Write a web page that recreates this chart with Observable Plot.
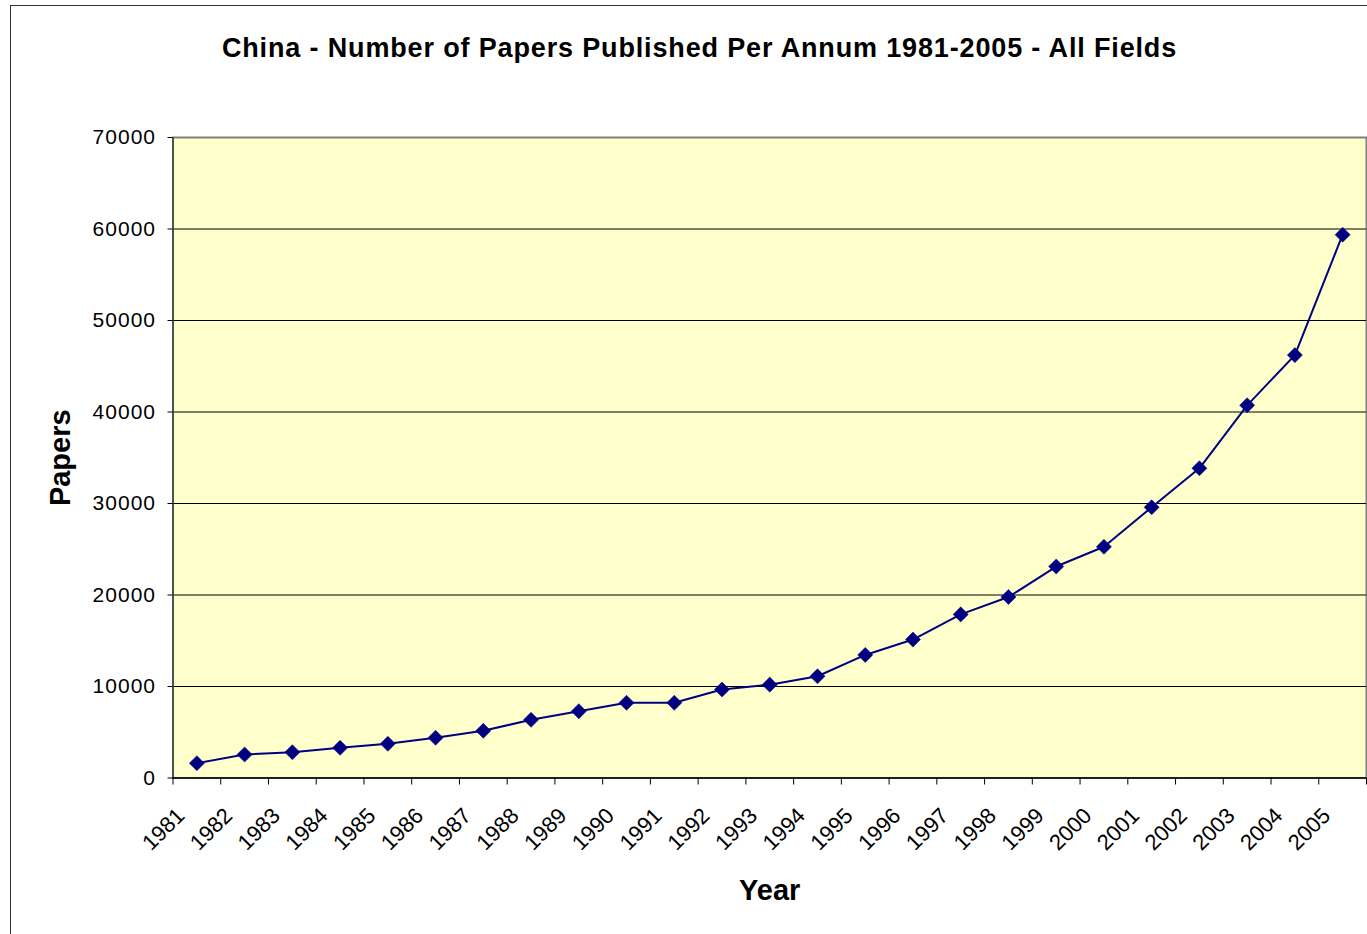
<!DOCTYPE html>
<html>
<head>
<meta charset="utf-8">
<script src="https://cdn.jsdelivr.net/npm/d3@7"></script>
<script src="https://cdn.jsdelivr.net/npm/@observablehq/plot@0.6"></script>
<style>
  html, body { margin: 0; padding: 0; background: #ffffff; overflow: hidden; }
  #fig { position: relative; width: 1367px; height: 934px; overflow: hidden; background: #ffffff;
         font-family: Arial, "Liberation Sans", sans-serif; }
  #border { position: absolute; left: 10px; top: 5px; width: 1400px; height: 1000px;
            border: 1.5px solid #333333; box-sizing: border-box; }
  #title { position: relative; height: 100px; box-sizing: border-box; padding-top: 33px; padding-left: 32px;
           text-align: center; font-weight: bold; font-size: 27px; line-height: 30px; letter-spacing: 0.85px; color: #000; }
  #chart { position: relative; }
  #chart svg { display: block; }
  #chart svg g[aria-label="y-axis tick label"] text { letter-spacing: 1px; }
</style>
</head>
<body>
<div id="fig">
  <div id="border"></div>
  <div id="title">China - Number of Papers Published Per Annum 1981-2005 - All Fields</div>
  <div id="chart"></div>
</div>
<script>
// Data
const years = [1981, 1982, 1983, 1984, 1985, 1986, 1987, 1988, 1989, 1990, 1991, 1992, 1993,
               1994, 1995, 1996, 1997, 1998, 1999, 2000, 2001, 2002, 2003, 2004, 2005];
const papers = [1620, 2570, 2820, 3300, 3740, 4400, 5160, 6360, 7300, 8220, 8220, 9670, 10200,
                11120, 13450, 15130, 17880, 19780, 23110, 25270, 29590, 33850, 40730, 46220, 59380];
const yTicks = [0, 10000, 20000, 30000, 40000, 50000, 60000, 70000];
const xLabel = "Year";
const yLabel = "Papers";

const data = years.map((year, i) => ({year, papers: papers[i]}));
// category boundaries (Excel puts the tick marks between categories)
const boundaries = years.concat([years[years.length - 1] + 1]);
const navy = "#000080";
const font = 'Arial, "Liberation Sans", sans-serif';

const chart = Plot.plot({
  width: 1367,
  height: 834,
  marginLeft: 172.5,
  marginRight: 1,
  marginTop: 37,
  marginBottom: 156.5,
  style: {fontFamily: font, background: "transparent", overflow: "visible", color: "#000"},
  x: {type: "linear", domain: [years[0], years[years.length - 1] + 1]},
  y: {type: "linear", domain: [0, 70000]},
  marks: [
    Plot.frame({fill: "#ffffcc", stroke: "#808080", strokeWidth: 2}),
    Plot.gridY(yTicks.filter(t => t > 0 && t < 70000), {stroke: "#000", strokeOpacity: 1, strokeWidth: 1}),
    Plot.ruleX([years[0]], {stroke: "#404040", strokeWidth: 1.5}),
    Plot.ruleY([0], {stroke: "#000", strokeWidth: 1.5}),
    Plot.axisY({ticks: yTicks, tickSize: 5, tickPadding: 12, tickFormat: d3.format("d"),
                fontSize: 21, label: null, stroke: "#000", fill: "#000"}),
    Plot.axisX({ticks: boundaries, tickSize: 7, tickFormat: () => "", label: null, stroke: "#000"}),
    Plot.text(years, {x: d => d + 0.5, frameAnchor: "bottom", text: d => String(d),
                      rotate: -45, textAnchor: "end", lineAnchor: "bottom",
                      dx: -11, dy: 39, fontSize: 22, fill: "#000"}),
    Plot.lineY(data, {x: d => d.year + 0.5, y: "papers", stroke: navy, strokeWidth: 2}),
    Plot.dot(data, {x: d => d.year + 0.5, y: "papers", symbol: "diamond2", r: 6.8, fill: navy, stroke: navy, strokeWidth: 0.5}),
    Plot.text([yLabel], {text: d => d, frameAnchor: "left", dx: -112.5, rotate: -90,
                         textAnchor: "middle", lineAnchor: "middle", fontSize: 29, fontWeight: "bold",
                         fill: "#000", letterSpacing: 1}),
    Plot.text([xLabel], {text: d => d, frameAnchor: "bottom", dy: 112.5,
                         textAnchor: "middle", lineAnchor: "middle", fontSize: 29, fontWeight: "bold",
                         fill: "#000", letterSpacing: 2.5})
  ]
});
document.getElementById("chart").appendChild(chart);
</script>
</body>
</html>
